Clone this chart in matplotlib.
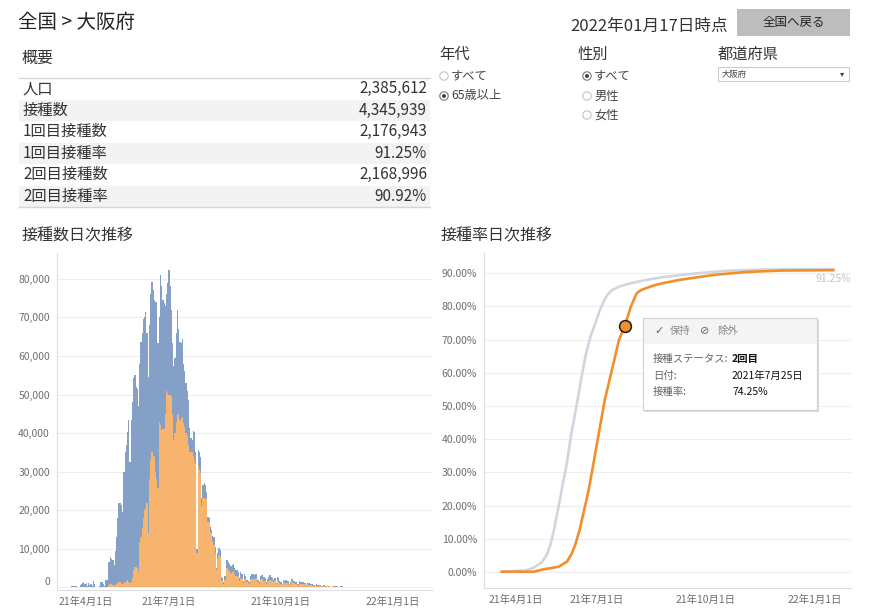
import matplotlib
matplotlib.use('Agg')
import matplotlib.pyplot as plt
import pandas as pd
import numpy as np
from matplotlib.patches import Rectangle, Circle
from matplotlib.transforms import ScaledTranslation

plt.rcParams['font.family'] = ['Noto Sans CJK JP', 'DejaVu Sans']

# ---------------- data ----------------
START = '2021-04-12'
daily_total = [
    300, 400, 400, 400, 300, 100, 100,
    600, 900, 1200, 1400, 900, 1100, 300,
    1200, 600, 1000, 300, 1700, 1000, 200,
    200, 200, 300, 1400, 1300, 900, 400,
    1900, 1900, 6600, 6700, 7900, 7500, 7100,
    5800, 9500, 13100, 18000, 21800, 22000, 21300,
    19600, 30000, 35200, 37000, 40300, 43400, 32600,
    43500, 48000, 54200, 55000, 52000, 51500, 47000,
    58000, 63600, 66000, 69500, 70000, 71400, 66000,
    54600, 68000, 76000, 79200, 77000, 74500, 74000,
    74000, 63400, 70000, 81000, 78000, 74500, 73700,
    73000, 76000, 78900, 82200, 78000, 72000, 63400,
    57400, 59500, 66000, 71900, 67000, 63500, 63300,
    64500, 58000, 56000, 53000, 51000, 48500, 41300,
    38700, 38200, 40500, 40300, 35000, 10000, 35500,
    35100, 33800, 23200, 26500, 27000, 26500, 24800,
    18300, 18000, 15700, 15000, 13400, 13100, 10600,
    5000, 9000, 10200, 9700, 2700, 2500, 1500,
    3000, 7100, 7100, 6500, 6000, 5500, 5800,
    6000, 5000, 4500, 4500, 4000, 2500, 4000,
    3500, 1700, 3600, 3000, 2000, 1800, 1500,
    3000, 3500, 3500, 3200, 3600, 3400, 2000,
    1500, 3000, 3300, 3300, 2800, 2500, 1500,
    2300, 2800, 3200, 2700, 2500, 2000, 2500,
    1200, 2600, 2400, 1800, 1500, 1000, 2000,
    1800, 2000, 1800, 1600, 1000, 1500, 2100,
    1800, 1700, 1500, 1400, 900, 1600, 1500,
    1400, 1300, 1200, 1100, 700, 1200, 1100,
    1000, 900, 800, 600, 400, 800, 700,
    700, 600, 500, 300, 600, 600, 500,
    500, 400, 300, 200, 400, 400, 300,
    300, 300, 200, 100, 300, 300, 200,
    200, 200, 100, 100, 200, 200, 200,
    200, 100, 100, 100, 200, 200, 100,
    100, 100, 50, 100, 100, 100, 100,
    100, 50, 50, 100, 100, 100, 50,
    50, 50, 50, 100, 100, 50, 50,
    50, 0, 0, 50, 50, 50, 50,
    50, 100, 50, 0, 0, 50, 50,
    100, 100, 100, 50, 50, 100, 100,
    100,
]
daily_second = [
    0, 0, 0, 0, 0, 0, 0,
    0, 0, 0, 0, 0, 0, 0,
    0, 0, 0, 0, 0, 0, 0,
    0, 0, 0, 0, 0, 0, 0,
    0, 0, 300, 800, 1000, 800, 600,
    500, 900, 1000, 1200, 1300, 1400, 1000,
    900, 1200, 1500, 1800, 2000, 1500, 1200,
    1500, 2500, 4500, 5300, 5200, 5000, 4000,
    11500, 13000, 15400, 18000, 20000, 20600, 22000,
    14100, 28000, 33000, 35200, 34000, 33800, 30000,
    28000, 25700, 43000, 42000, 40800, 41000, 41000,
    45000, 51000, 50500, 49800, 49800, 49500, 45000,
    38200, 40000, 43000, 45000, 44700, 43300, 43800,
    44300, 42500, 41500, 40000, 39300, 37000, 35100,
    35000, 35000, 34000, 33000, 32000, 9000, 31400,
    30500, 29600, 21000, 23200, 23200, 23000, 22800,
    17000, 17000, 14500, 14000, 12000, 11000, 9000,
    4500, 7500, 8500, 8000, 2000, 1800, 1000,
    2000, 5000, 5000, 4500, 4200, 3800, 4000,
    4200, 3500, 3000, 3000, 2700, 1700, 2500,
    2300, 1100, 2300, 2000, 1300, 1200, 1000,
    2000, 2300, 2300, 2100, 2300, 2200, 1300,
    1000, 2000, 2100, 2100, 1800, 1600, 1000,
    1500, 1800, 2000, 1700, 1600, 1300, 1600,
    800, 1600, 1500, 1200, 1000, 700, 1300,
    1100, 1200, 1100, 1000, 600, 900, 1300,
    1100, 1100, 1000, 900, 600, 1000, 1000,
    900, 900, 800, 700, 500, 800, 700,
    700, 600, 500, 400, 300, 500, 500,
    500, 400, 300, 200, 400, 400, 300,
    300, 300, 200, 100, 300, 300, 200,
    200, 200, 100, 100, 200, 200, 100,
    100, 100, 100, 50, 100, 100, 100,
    100, 50, 50, 50, 100, 100, 50,
    50, 50, 0, 50, 50, 50, 50,
    50, 0, 0, 50, 50, 50, 0,
    0, 0, 0, 50, 50, 0, 0,
    0, 0, 0, 0, 0, 0, 0,
    0, 0, 0, 0, 0, 0, 0,
    0, 0, 0, 0, 0, 0, 0,
    0,
]

rate1_dates = ['2021-04-12', '2021-05-02', '2021-05-09', '2021-05-16', '2021-05-20',
               '2021-05-23', '2021-05-26', '2021-05-30', '2021-06-02', '2021-06-06',
               '2021-06-10', '2021-06-12', '2021-06-15', '2021-06-19', '2021-06-22',
               '2021-06-26', '2021-07-01', '2021-07-04', '2021-07-07', '2021-07-10',
               '2021-07-14', '2021-07-21', '2021-07-30', '2021-08-12', '2021-08-27',
               '2021-09-24', '2021-10-22', '2021-11-19', '2021-12-17', '2022-01-17']
rate1_values = [0.1, 0.5, 1.3, 3.0, 5.2, 8.1, 12.5, 19.7, 25.5, 32.8, 42.3, 45.8, 51.8,
                59.9, 65.5, 71.0, 75.9, 79.0, 81.4, 83.4, 84.9, 86.1, 87.0, 88.0, 88.9,
                90.0, 90.8, 91.1, 91.2, 91.25]

rate2_dates = ['2021-04-12', '2021-05-09', '2021-05-17', '2021-05-30', '2021-06-06',
               '2021-06-10', '2021-06-13', '2021-06-17', '2021-06-20', '2021-06-24',
               '2021-06-27', '2021-07-03', '2021-07-08', '2021-07-14', '2021-07-20',
               '2021-07-25', '2021-07-30', '2021-08-02', '2021-08-04', '2021-08-08',
               '2021-08-12', '2021-08-19', '2021-08-26', '2021-09-09', '2021-10-08',
               '2021-11-05', '2021-12-03', '2022-01-17']
rate2_values = [0.1, 0.1, 0.8, 1.6, 3.1, 5.5, 8.1, 13.0, 17.8, 24.0, 29.8, 41.8, 51.8,
                60.8, 69.9, 74.25, 79.9, 82.4, 84.0, 85.0, 85.5, 86.4, 87.0, 88.0, 89.5,
                90.4, 90.8, 90.92]

summary_labels = ['人口', '接種数', '1回目接種数', '1回目接種率', '2回目接種数', '2回目接種率']
summary_values = ['2,385,612', '4,345,939', '2,176,943', '91.25%', '2,168,996', '90.92%']

bar_yticks = [0, 10000, 20000, 30000, 40000, 50000, 60000, 70000, 80000]
rate_yticks = [0, 10, 20, 30, 40, 50, 60, 70, 80, 90]
xtick_dates = ['2021-04-01', '2021-07-01', '2021-10-01', '2022-01-01']
xtick_labels = ['21年4月1日', '21年7月1日', '21年10月1日', '22年1月1日']

tooltip_status = '2回目'
tooltip_date = '2021-07-25'
tooltip_date_label = '2021年7月25日'
tooltip_rate = 74.25
final_rate1 = 91.25

# ---------------- figure ----------------
W, H = 880, 614
fig = plt.figure(figsize=(W / 100, H / 100), dpi=100)
fig.patch.set_facecolor('white')

BAR_BLUE = '#85a0c7'
BAR_ORANGE = '#f6b46e'
ORANGE = '#F28E2B'
TICK = '#6e6e6e'
GRID = '#eeeeee'
AXLINE = '#dedede'


def px_axes(l, t, r, b):
    return fig.add_axes([l / W, 1 - b / H, (r - l) / W, (b - t) / H])


# ---- bar chart ----
ax1 = px_axes(57, 253, 432, 590)
dates = pd.date_range(START, periods=len(daily_total), freq='D')
total = np.array(daily_total, dtype=float)
second = np.array(daily_second, dtype=float)
first = total - second
ax1.bar(dates, second, width=1.0, color=BAR_ORANGE, linewidth=0, zorder=3)
ax1.bar(dates, first, bottom=second, width=1.0, color=BAR_BLUE, linewidth=0, zorder=3)
ax1.set_xlim(pd.Timestamp('2021-03-31'), pd.Timestamp('2022-02-02'))
ax1.set_ylim(-650, 86660)
ax1.set_yticks(bar_yticks)
ax1.set_yticklabels([f'{v:,}' for v in bar_yticks])
ax1.set_xticks(pd.to_datetime(xtick_dates))
ax1.set_xticklabels(xtick_labels)

# ---- rate chart ----
ax2 = px_axes(484, 253, 851, 588)
ax2.plot(pd.to_datetime(rate1_dates), rate1_values, color='#d0d6df', lw=1.9, zorder=3,
         solid_joinstyle='round')
ax2.plot(pd.to_datetime(rate2_dates), rate2_values, color=ORANGE, lw=1.9, zorder=4,
         solid_joinstyle='round')
ax2.plot([pd.Timestamp(tooltip_date)], [tooltip_rate], 'o', ms=8.5, mfc=ORANGE,
         mec='#1a1a1a', mew=1.1, zorder=5)
ax2.set_xlim(pd.Timestamp('2021-03-28'), pd.Timestamp('2022-02-01'))
ax2.set_ylim(-4.8, 96.1)
ax2.set_yticks(rate_yticks)
ax2.set_yticklabels([f'{v:.2f}%' for v in rate_yticks])
ax2.set_xticks(pd.to_datetime(xtick_dates))
ax2.set_xticklabels(xtick_labels)
ax2.text(pd.Timestamp('2022-01-17'), final_rate1 - 3.0, f'{final_rate1:.2f}%',
         color='#c4c4c4', fontsize=7.5, ha='center', va='center', zorder=6)

for ax in (ax1, ax2):
    for s in ('top', 'right'):
        ax.spines[s].set_visible(False)
    for s in ('left', 'bottom'):
        ax.spines[s].set_color(AXLINE)
        ax.spines[s].set_linewidth(0.8)
    ax.grid(axis='y', color=GRID, lw=0.8, zorder=0)
    ax.set_axisbelow(True)
    ax.tick_params(axis='both', length=0, colors=TICK, labelsize=7.5)
    ax.tick_params(axis='x', pad=5)
    ax.tick_params(axis='y', pad=5)
    ax.set_facecolor('white')
    xl = ax.get_xticklabels()
    xl[0].set_ha('left')

# nudge the 0 label of the bar chart up like the reference
t0 = ax1.yaxis.get_major_ticks()[0]
t0.label1.set_transform(t0.label1.get_transform() +
                        ScaledTranslation(0, 6 / 100, fig.dpi_scale_trans))

# ---- overlay (pixel coordinates) ----
ov = fig.add_axes([0, 0, 1, 1], zorder=10)
ov.set_xlim(0, W)
ov.set_ylim(H, 0)
ov.axis('off')
ov.patch.set_alpha(0)

DARK = '#333333'
ov.text(18, 22, '全国 > 大阪府', fontsize=14, color='#222222', va='center', ha='left')
ov.text(570, 26, '2022年01月17日時点', fontsize=12, color=DARK, va='center', ha='left')
ov.add_patch(Rectangle((737, 9), 113, 27, facecolor='#bdbdbd', edgecolor='none'))
ov.text(793.5, 22.5, '全国へ戻る', fontsize=9, color='#222222', va='center', ha='center')

# summary table
ov.text(22, 58, '概要', fontsize=11.5, color=DARK, va='center', ha='left')
row_h = 21.5
top = 78
for i, (lab, val) in enumerate(zip(summary_labels, summary_values)):
    y0 = top + i * row_h
    if i % 2 == 1:
        ov.add_patch(Rectangle((19, y0), 411, row_h, facecolor='#f3f3f3', edgecolor='none'))
    ov.text(23, y0 + row_h / 2, lab, fontsize=11, color=DARK, va='center', ha='left')
    ov.text(427, y0 + row_h / 2, val, fontsize=11, color=DARK, va='center', ha='right')
ov.plot([19, 430], [top, top], color='#d6d6d6', lw=1.0)
ov.plot([19, 430], [top + 6 * row_h, top + 6 * row_h], color='#d6d6d6', lw=1.0)

# filters
ov.text(439, 54, '年代', fontsize=11, color=DARK, va='center', ha='left')
ov.text(578, 54, '性別', fontsize=11, color=DARK, va='center', ha='left')
ov.text(718, 54, '都道府県', fontsize=11, color=DARK, va='center', ha='left')


def radio(x, y, label, selected):
    ov.add_patch(Circle((x, y), 4.2, facecolor='white',
                        edgecolor='#777777' if selected else '#c4c4c4', lw=0.8))
    if selected:
        ov.add_patch(Circle((x, y), 2.0, facecolor='#444444', edgecolor='none'))
    ov.text(x + 7, y, label, fontsize=8.8, color='#444444', va='center', ha='left')


radio(444, 76, 'すべて', False)
radio(444, 96, '65歳以上', True)
radio(587, 76, 'すべて', True)
radio(587, 96, '男性', False)
radio(587, 115, '女性', False)

ov.add_patch(Rectangle((718, 67), 131, 14, facecolor='white', edgecolor='#cccccc', lw=0.8))
ov.text(722, 74, '大阪府', fontsize=6, color='#444444', va='center', ha='left')
ov.text(842, 74, '▾', fontsize=6, color='#444444', va='center', ha='center',
        family=['DejaVu Sans'])

# chart titles
ov.text(22, 236, '接種数日次推移', fontsize=11.5, color=DARK, va='center', ha='left')
ov.text(441, 236, '接種率日次推移', fontsize=11.5, color=DARK, va='center', ha='left')

# tooltip
ov.add_patch(Rectangle((645, 320), 174, 92, facecolor='#dcdcdc', edgecolor='none'))
ov.add_patch(Rectangle((643, 318), 174, 92, facecolor='white', edgecolor='#cfcfcf', lw=0.8))
ov.add_patch(Rectangle((643.5, 318.5), 173, 25, facecolor='#f4f4f4', edgecolor='none'))
ov.text(654, 331, '✓', fontsize=8, color='#666666', va='center', ha='left',
        family=['DejaVu Sans'])
ov.text(670, 331, '保持', fontsize=7.5, color='#888888', va='center', ha='left')
ov.text(700, 331, '⊘', fontsize=8, color='#666666', va='center', ha='left',
        family=['DejaVu Sans'])
ov.text(717, 331, '除外', fontsize=7.5, color='#888888', va='center', ha='left')
ov.text(653, 359, '接種ステータス:', fontsize=7.5, color='#666666', va='center', ha='left')
ov.text(732, 359, tooltip_status, fontsize=7.5, color='#111111', va='center', ha='left',
        fontweight='bold')
ov.text(653, 376, '日付:', fontsize=7.5, color='#666666', va='center', ha='left')
ov.text(732, 376, tooltip_date_label, fontsize=7.5, color='#111111', va='center', ha='left')
ov.text(653, 392, '接種率:', fontsize=7.5, color='#666666', va='center', ha='left')
ov.text(732, 392, f'{tooltip_rate:.2f}%', fontsize=7.5, color='#111111', va='center',
        ha='left')

fig.savefig('out.png', dpi=100)
